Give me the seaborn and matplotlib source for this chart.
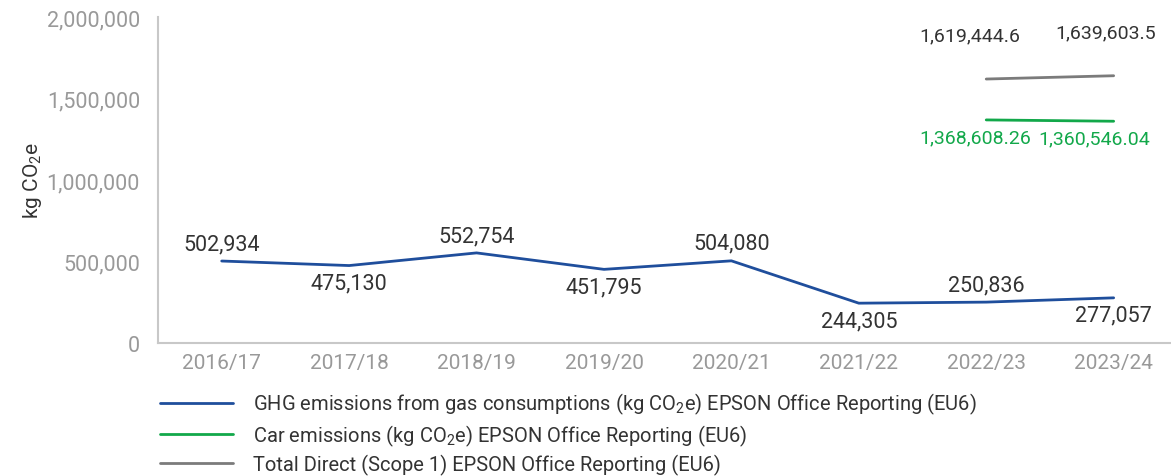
import pandas as pd
import numpy as np
import matplotlib
matplotlib.use("Agg")
import matplotlib.pyplot as plt
import seaborn as sns

# data
years = ["2016/17", "2017/18", "2018/19", "2019/20", "2020/21", "2021/22", "2022/23", "2023/24"]
gas = [502934, 475130, 552754, 451795, 504080, 244305, 250836, 277057]
car = [np.nan] * 6 + [1368608.26, 1360546.04]
total = [np.nan] * 6 + [1619444.6, 1639603.5]

gas_labels = ["502,934", "475,130", "552,754", "451,795", "504,080", "244,305", "250,836", "277,057"]
car_labels = ["1,368,608.26", "1,360,546.04"]
total_labels = ["1,619,444.6", "1,639,603.5"]

series_names = [
    "GHG emissions from gas consumptions (kg CO$_2$e) EPSON Office Reporting (EU6)",
    "Car emissions (kg CO$_2$e) EPSON Office Reporting (EU6)",
    "Total Direct (Scope 1) EPSON Office Reporting (EU6)",
]
colors = ["#1f4e9c", "#12a84a", "#7b7b7b"]

df = pd.DataFrame({
    "year": years * 3,
    "value": gas + car + total,
    "series": [series_names[0]] * 8 + [series_names[1]] * 8 + [series_names[2]] * 8,
})
df["x"] = list(range(8)) * 3

sns.set_style("white")
plt.rcParams['font.family'] = ['Roboto', 'DejaVu Sans']
plt.rcParams['mathtext.default'] = 'regular'

fig = plt.figure(figsize=(11.71, 4.77), dpi=100)
ax = fig.add_axes([158 / 1171, 1 - 344 / 477, 1 - 158 / 1171, (344 - 18) / 477])

sns.lineplot(data=df, x="x", y="value", hue="series", palette=colors, linewidth=2,
             ax=ax, legend=True)

ax.set_xlim(-0.5, 7.45)
ax.set_ylim(0, 2000000)
ax.set_yticks([0, 500000, 1000000, 1500000, 2000000])
ax.set_yticklabels(["0", "500,000", "1,000,000", "1,500,000", "2,000,000"])
ax.set_xticks(range(8))
ax.set_xticklabels(years)
ax.tick_params(axis="y", labelsize=15.5, colors="#999999", length=0, pad=13)
ax.tick_params(axis="x", labelsize=15, colors="#999999", length=0, pad=7)
ax.set_xlabel("")
ax.set_ylabel("kg CO$_2$e", fontsize=15, color="#333333", labelpad=2)
for s in ["top", "right"]:
    ax.spines[s].set_visible(False)
for s in ["left", "bottom"]:
    ax.spines[s].set_color("#c8c8c8")
    ax.spines[s].set_linewidth(1.5)

# data labels
for i, (v, lab) in enumerate(zip(gas, gas_labels)):
    dy = 5 if i % 2 == 0 else -5
    ax.annotate(lab, (i, v), xytext=(0, dy), textcoords="offset points",
                ha="center", va="bottom" if dy > 0 else "top", fontsize=15.5, color="#333333")
for j, lab in enumerate(total_labels):
    i = 6 + j
    ax.annotate(lab, (i, total[i]), xytext=(-12 if j == 0 else -6, 25), textcoords="offset points",
                ha="center", va="bottom", fontsize=14, color="#333333")
for j, lab in enumerate(car_labels):
    i = 6 + j
    ax.annotate(lab, (i, car[i]), xytext=(-8 if j == 0 else -14, -6), textcoords="offset points",
                ha="center", va="top", fontsize=14, color="#12a84a")

handles, labels = ax.get_legend_handles_labels()
ax.legend(handles, labels, loc="upper left", bbox_to_anchor=(142 / 1171, 1 - 374 / 477),
          bbox_transform=fig.transFigure, frameon=False, fontsize=14.5,
          handlelength=3.6, handletextpad=1.0, labelspacing=0.3,
          labelcolor="#333333")

fig.savefig("out.png", dpi=100)
